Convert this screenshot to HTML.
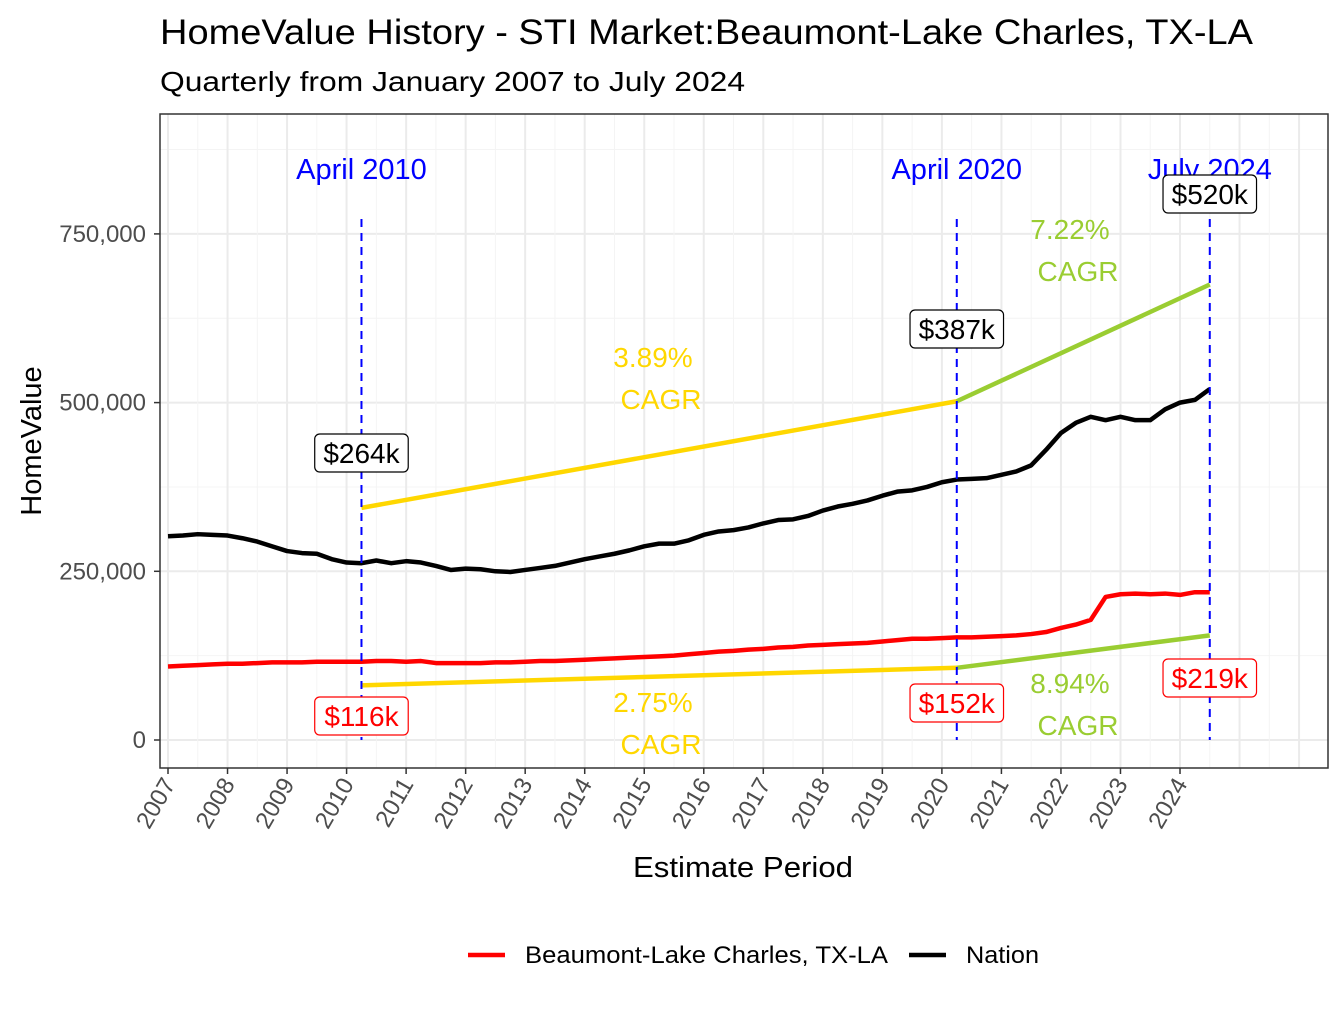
<!DOCTYPE html>
<html><head><meta charset="utf-8"><style>
body{margin:0;background:#fff;font-family:"Liberation Sans",Arial,sans-serif;}
svg text{font-family:"Liberation Sans",Arial,sans-serif;}
</style></head><body>
<svg id="chart" width="1344" height="1008" xmlns="http://www.w3.org/2000/svg">
<text x="160" y="44" font-size="35" fill="#000" textLength="1093" lengthAdjust="spacingAndGlyphs">HomeValue History - STI Market:Beaumont-Lake Charles, TX-LA</text>
<text x="160" y="91" font-size="28" fill="#000" textLength="585" lengthAdjust="spacingAndGlyphs">Quarterly from January 2007 to July 2024</text>
<g id="grid"></g>
<g id="marks"></g>
<rect x="160" y="114" width="1168" height="654" fill="none" stroke="#333" stroke-width="1.5"/>
<g id="axes"></g>
<text x="633" y="877" font-size="29" textLength="220" lengthAdjust="spacingAndGlyphs" fill="#000">Estimate Period</text>
<text transform="translate(41,441) rotate(-90)" font-size="29" text-anchor="middle" fill="#000">HomeValue</text>
<g>
<line x1="468" y1="955" x2="505" y2="955" stroke="#f00" stroke-width="4.5"/>
<text x="525" y="963" font-size="24" textLength="363" lengthAdjust="spacingAndGlyphs">Beaumont-Lake Charles, TX-LA</text>
<line x1="909" y1="955" x2="946" y2="955" stroke="#000" stroke-width="4.5"/>
<text x="966" y="963" font-size="24" textLength="73" lengthAdjust="spacingAndGlyphs">Nation</text>
</g>
</svg>
<script>
const nation = [302,303,305,304, 303,299,294,287, 280,277,276,268, 263,262,266,262, 265,263,258,252, 254,253,250,249, 252,255,258,263, 268,272,276,281, 287,291,291,296, 304,309,311,315, 321,326,327,332, 340,346,350,355, 362,368,370,375, 382,386,387,388, 393,398,407,430, 455,470,479,474, 479,474,474,490, 500,504,520];
const metro = [109,110,111,112, 113,113,114,115, 115,115,116,116, 116,116,117,117, 116,117,114,114, 114,114,115,115, 116,117,117,118, 119,120,121,122, 123,124,125,127, 129,131,132,134, 135,137,138,140, 141,142,143,144, 146,148,150,150, 151,152,152,153, 154,155,157,160, 166,171,178,212, 216,217,216,217, 215,219,219];
const trendNation = [[2010.25,344],[2020.25,502],[2024.5,675]];
const trendMetro = [[2010.25,81],[2020.25,107],[2024.5,155]];
const cagrNation = ["3.89%","7.22%"];
const cagrMetro = ["2.75%","8.94%"];
const markerYears = [2010.25,2020.25,2024.5];
const markerLabels = ["April 2010","April 2020","July 2024"];
const nationLabels = ["$264k","$387k","$520k"];
const metroLabels = ["$116k","$152k","$219k"];
const yTicks = [0,250000,500000,750000];
const yTickLabels = ["0","250,000","500,000","750,000"];
const xTicks = [2007,2008,2009,2010,2011,2012,2013,2014,2015,2016,2017,2018,2019,2020,2021,2022,2023,2024];

const X = t => 168 + (t-2007)*59.53;
const Y = v => 740 - v*0.0006748;
const YK = k => Y(k*1000);
const NS="http://www.w3.org/2000/svg";
function mk(parent,tag,attrs){const e=document.createElementNS(NS,tag);for(const k in attrs)e.setAttribute(k,attrs[k]);parent.appendChild(e);return e;}
const grid=document.getElementById('grid'), marks=document.getElementById('marks'), axes=document.getElementById('axes');

for(let v=-125000; v<=875000; v+=125000){
  const y=Y(v); if(y<114||y>768) continue;
  const major = v%250000===0;
  const l=mk(grid,'line',{x1:160,x2:1328,y1:y,y2:y,stroke:major?'#ebebeb':'#f4f4f4','stroke-width':major?2:1});
  
  
}
for(let t=2006.5; t<=2026.5; t+=0.5){
  const x=X(t); if(x<160||x>1328) continue;
  const major = Number.isInteger(t);
  const l=mk(grid,'line',{x1:x,x2:x,y1:114,y2:768,stroke:major?'#ebebeb':'#f4f4f4','stroke-width':major?2:1});
  
  
}

function poly(pts,color,name){
  const p=mk(marks,'polyline',{points:pts.map(d=>X(d[0])+','+YK(d[1])).join(' '),fill:'none',stroke:color,'stroke-width':4.5});
  
  
}
poly(trendNation.slice(0,2),'#ffd700','trend-nation-2010-2020');
poly(trendNation.slice(1),'#9acd32','trend-nation-2020-2024');
poly(trendMetro.slice(0,2),'#ffd700','trend-metro-2010-2020');
poly(trendMetro.slice(1),'#9acd32','trend-metro-2020-2024');

function series(arr,color,name){
  const p=mk(marks,'polyline',{points:arr.map((v,i)=>X(2007+i/4)+','+YK(v)).join(' '),fill:'none',stroke:color,'stroke-width':4.5,'stroke-linejoin':'round'});
  
  
}
series(nation,'#000','line-nation');
series(metro,'#f00','line-beaumont');

markerYears.forEach((t,i)=>{
  const x=X(t);
  const l=mk(marks,'line',{x1:x,x2:x,y1:219,y2:740,stroke:'#00f','stroke-width':2,'stroke-dasharray':'8,6'});
  
  
  const tx=mk(marks,'text',{x:x,y:179,'font-size':29,'text-anchor':'middle',fill:'#00f'});
  tx.textContent=markerLabels[i];
  
  
});
function label(x,y,txt,color,name){
  const w=txt.length*15.5+16;
  const r=mk(marks,'rect',{x:x-w/2,y:y-19,width:w,height:38,rx:5,fill:'#fff',stroke:color,'stroke-width':1.2});
  
  
  const t=mk(marks,'text',{x:x,y:y+10,'font-size':28,'text-anchor':'middle',fill:color});
  t.textContent=txt;
  
  
}
const nLabY=[453,329,194], mLabY=[716,703,678];
markerYears.forEach((t,i)=>{
  label(X(t),nLabY[i],nationLabels[i],'#000','nation-value-label');
  label(X(t),mLabY[i],metroLabels[i],'#f00','metro-value-label');
});
function cagr(x,y,pct,color){
  const a=mk(marks,'text',{x:x,y:y,'font-size':28,'text-anchor':'middle',fill:color});
  a.textContent=pct;
  
  
  const b=mk(marks,'text',{x:x+8,y:y+42,'font-size':28,'text-anchor':'middle',fill:color});
  b.textContent='CAGR';
  
  
}
cagr(653,367,cagrNation[0],'#ffd700');
cagr(1070,239,cagrNation[1],'#9acd32');
cagr(653,712,cagrMetro[0],'#ffd700');
cagr(1070,693,cagrMetro[1],'#9acd32');

yTicks.forEach((v,i)=>{
  const y=Y(v);
  const l=mk(axes,'line',{x1:154,x2:160,y1:y,y2:y,stroke:'#333','stroke-width':1.5});
  
  
  const t=mk(axes,'text',{x:146,y:y+8,'font-size':24,'text-anchor':'end',fill:'#4d4d4d'});
  t.textContent=yTickLabels[i];
  
  
});
xTicks.forEach(yr=>{
  const x=X(yr);
  const l=mk(axes,'line',{x1:x,x2:x,y1:768,y2:774,stroke:'#333','stroke-width':1.5});
  
  
  const t=mk(axes,'text',{transform:`translate(${x+8},${784}) rotate(-60)`,'font-size':24,'text-anchor':'end',fill:'#4d4d4d'});
  t.textContent=String(yr);
  
  
});
</script>
</body></html>
